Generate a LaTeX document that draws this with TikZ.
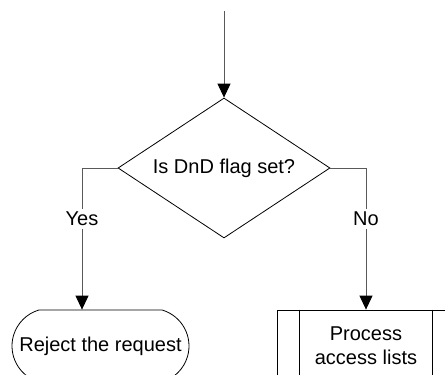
\documentclass[tikz,border=0pt]{standalone}
\usepackage{fontspec}
\setmainfont{Liberation Sans}
\usetikzlibrary{arrows.meta,shapes.geometric,shapes.misc}

\tikzset{
  flow/.style={draw=black!65, line width=1pt},
  flowarrow/.style={flow, -{Triangle[width=13pt,length=14pt,color=black]}},
  shapeline/.style={draw=black, line width=0.8pt},
  decision/.style={shapeline, diamond, aspect=1.514, inner sep=0pt,
    minimum width=212pt, minimum height=140pt},
  terminator/.style={shapeline, rounded rectangle, rounded rectangle arc length=147,
    inner sep=0pt, minimum width=177pt, minimum height=72pt},
  process/.style={shapeline, rectangle, inner sep=0pt, align=center,
    minimum width=178pt, minimum height=72pt},
  branchlabel/.style={fill=white, inner sep=3pt},
}

\begin{document}
\begin{tikzpicture}[x=1pt, y=-1pt, font=\fontsize{20}{24}\selectfont]
  \useasboundingbox (0,0) rectangle (445,375);
  \clip (0,0) rectangle (445,375);

  % shapes
  \node[decision] (dnd) at (224,168) {Is DnD flag set?};
  \node[terminator] (reject) at (100.5,346) {Reject the request};
  \node[process] (acl) at (366,346) {Process\\access lists};
  \draw[shapeline] ([xshift=23pt]acl.north west) -- ([xshift=23pt]acl.south west);
  \draw[shapeline] ([xshift=-23pt]acl.north east) -- ([xshift=-23pt]acl.south east);

  % connectors
  \coordinate (entry) at (224,11);
  \coordinate (yesbend) at (82,168);
  \coordinate (nobend) at (366,168);
  \draw[flowarrow] (entry) -- (dnd.north);
  \draw[flowarrow] (dnd.west) -- (yesbend) -- (yesbend |- reject.north);
  \draw[flowarrow] (dnd.east) -- (nobend) -- (acl.north);

  % branch labels
  \node[branchlabel] (yes) at (82,219) {Yes};
  \node[branchlabel] (no) at (366,219) {No};
\end{tikzpicture}
\end{document}
